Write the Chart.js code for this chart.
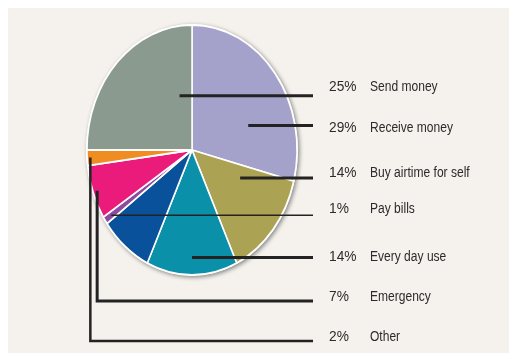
<!DOCTYPE html>
<html>
<head>
<meta charset="utf-8">
<script src="https://cdn.jsdelivr.net/npm/chart.js@4/dist/chart.umd.min.js"></script>
<style>
  html, body { margin: 0; padding: 0; background: #ffffff; }
  #wrap { position: relative; width: 509px; height: 353px; }
  #panel { position: absolute; left: 8px; top: 8px; right: 0; bottom: 0; background: #f5f2ed; }
  #usage { position: absolute; left: 0; top: 0; }
</style>
</head>
<body>
<div id="wrap">
  <div id="panel"></div>
  <canvas id="usage" width="509" height="353"></canvas>
</div>
<script>
// slices, clockwise from 12 o'clock
var categories = ['Receive money', 'Buy airtime for self', 'Every day use', '', 'Pay bills', 'Emergency', 'Other', 'Send money'];
var shares = [29, 14, 14, 8, 1, 7, 2, 25];
var shareLabels = ['29%', '14%', '14%', '', '1%', '7%', '2%', '25%'];
var colors = ['#a4a1ca', '#aca253', '#0a90a9', '#0a519b', '#8d4b9f', '#ea1b7b', '#ef8c22', '#8b9a8f'];

// order of the callout rows on the right
var rowOrder = [7, 0, 1, 4, 2, 5, 6];

// pie is drawn squashed into an upright ellipse
var stretchY = 1.19;

// where each leader line starts inside its slice: [fraction of the slice angle, fraction of radius]
var anchors = {
    7: {a: 0.83, r: 0.45, width: 3},
    0: {a: 0.67, r: 0.57, width: 3},
    1: {a: 0.23, r: 0.51, width: 3},
    4: {a: 0.5, r: 0.93, width: 1.5},
    2: {a: 0.5, r: 0.86, width: 3},
    5: {a: 0.5, r: 0.96, width: 3, elbow: true},
    6: {a: 0.5, r: 0.97, width: 2.5, elbow: true}
};
var rowY = [87, 128, 173, 209, 257, 297, 337];
var lineEndX = 313;
var pctX = 329;
var labelX = 370;

function pieCentre(chart) {
    var arc = chart.getDatasetMeta(0).data[0];
    return {x: arc.x, y: arc.y, r: arc.outerRadius};
}

// condensed text: squeeze horizontally around the left edge
function narrowText(ctx, text, x, y, squeeze) {
    ctx.save();
    ctx.translate(x, y);
    ctx.scale(squeeze, 1);
    ctx.fillText(text, 0, 0);
    ctx.restore();
}

var ellipsePie = {
    id: 'ellipsePie',
    beforeDatasetsDraw: function (chart) {
        var ctx = chart.ctx;
        var c = pieCentre(chart);
        // soft shadow under the pie
        ctx.save();
        ctx.shadowColor = 'rgba(0,0,0,0.45)';
        ctx.shadowBlur = 4;
        ctx.shadowOffsetX = 1.5;
        ctx.shadowOffsetY = 1.5;
        ctx.fillStyle = '#ffffff';
        ctx.beginPath();
        ctx.ellipse(c.x, c.y, c.r + 1, c.r * stretchY + 1, 0, 0, Math.PI * 2);
        ctx.fill();
        ctx.restore();

        ctx.save();
        ctx.translate(c.x, c.y);
        ctx.scale(1, stretchY);
        ctx.translate(-c.x, -c.y);
    },
    afterDatasetsDraw: function (chart) {
        chart.ctx.restore();
    }
};

var callouts = {
    id: 'callouts',
    afterDraw: function (chart) {
        var ctx = chart.ctx;
        var arcs = chart.getDatasetMeta(0).data;
        ctx.save();
        ctx.strokeStyle = '#232323';
        ctx.lineCap = 'butt';
        ctx.lineJoin = 'miter';
        rowOrder.forEach(function (idx, row) {
            var arc = arcs[idx];
            var an = anchors[idx];
            var ang = arc.startAngle + an.a * (arc.endAngle - arc.startAngle);
            var px = arc.x + an.r * arc.outerRadius * Math.cos(ang);
            var py = arc.y + an.r * arc.outerRadius * Math.sin(ang) * stretchY;
            ctx.lineWidth = an.width;
            ctx.beginPath();
            if (an.elbow) {
                var ly = rowY[row] + 4;
                ctx.moveTo(px, py);
                ctx.lineTo(px, ly);
                ctx.lineTo(lineEndX, ly);
            } else {
                ctx.moveTo(px, py);
                ctx.lineTo(lineEndX, py);
            }
            ctx.stroke();

            ctx.fillStyle = '#2b2b2b';
            ctx.textBaseline = 'middle';
            ctx.font = '14px "Liberation Sans", Arial, sans-serif';
            narrowText(ctx, shareLabels[idx], pctX, rowY[row], 0.98);
            narrowText(ctx, categories[idx], labelX, rowY[row], 0.86);
        });
        ctx.restore();
    }
};

new Chart(document.getElementById('usage'), {
    type: 'pie',
    data: {
        labels: categories,
        datasets: [{
            data: shares,
            backgroundColor: colors,
            borderColor: '#ffffff',
            borderWidth: 1.5,
            hoverOffset: 0
        }]
    },
    options: {
        responsive: false,
        animation: false,
        events: [],
        radius: 105,
        layout: {padding: {left: 0, top: 0, right: 125, bottom: 53}},
        plugins: {
            legend: {display: false},
            tooltip: {enabled: false}
        }
    },
    plugins: [ellipsePie, callouts]
});
</script>
</body>
</html>
